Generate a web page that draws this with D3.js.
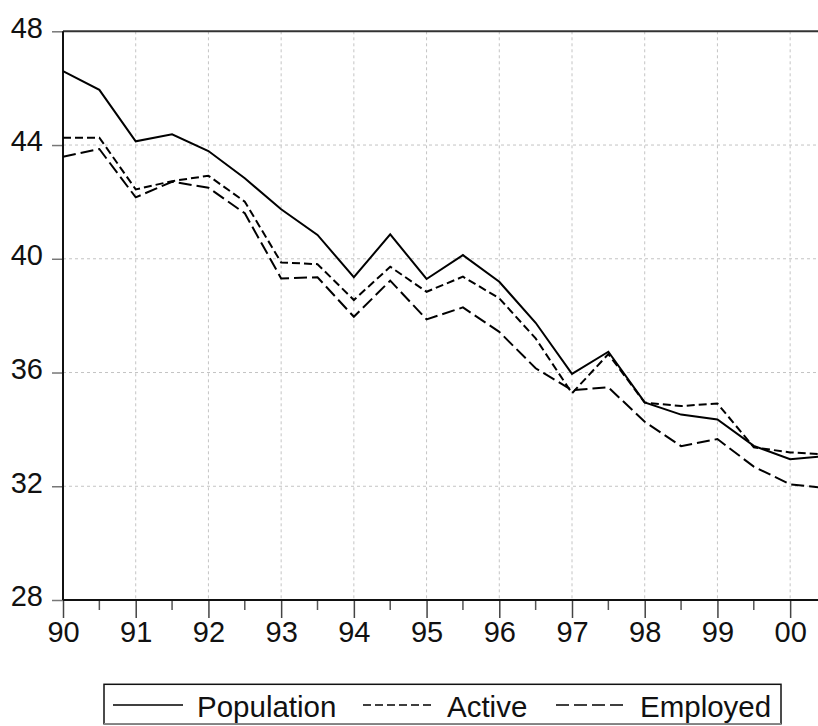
<!DOCTYPE html>
<html>
<head>
<meta charset="utf-8">
<script src="https://cdn.jsdelivr.net/npm/d3@7"></script>
<style>
  body { margin: 0; background: #fff; }
  svg { display: block; font-family: "Liberation Sans", Arial, sans-serif; }
</style>
</head>
<body>
<svg id="chart" width="818" height="726"></svg>
<script>
// semiannual observations, 1990H1 .. 2000H2
var periods = [1990, 1990.5, 1991, 1991.5, 1992, 1992.5, 1993, 1993.5, 1994, 1994.5, 1995,
               1995.5, 1996, 1996.5, 1997, 1997.5, 1998, 1998.5, 1999, 1999.5, 2000, 2000.5];
var population = [46.60, 45.94, 44.13, 44.38, 43.79, 42.83, 41.74, 40.84, 39.35, 40.86, 39.29,
                  40.13, 39.19, 37.75, 35.95, 36.73, 34.95, 34.52, 34.35, 33.42, 32.95, 33.06];
var active     = [44.26, 44.26, 42.44, 42.73, 42.92, 42.01, 39.87, 39.81, 38.55, 39.72, 38.84,
                  39.37, 38.61, 37.20, 35.27, 36.65, 34.94, 34.82, 34.91, 33.37, 33.19, 33.12];
var employed   = [43.59, 43.86, 42.16, 42.71, 42.50, 41.60, 39.31, 39.35, 37.96, 39.23, 37.87,
                  38.29, 37.43, 36.15, 35.38, 35.48, 34.27, 33.41, 33.66, 32.69, 32.07, 31.93];

var yTicks = [28, 32, 36, 40, 44, 48];
var xMajor = [1990, 1991, 1992, 1993, 1994, 1995, 1996, 1997, 1998, 1999, 2000];
var xMinor = [1990.5, 1991.5, 1992.5, 1993.5, 1994.5, 1995.5, 1996.5, 1997.5, 1998.5, 1999.5];
var xLabels = ['90', '91', '92', '93', '94', '95', '96', '97', '98', '99', '00'];

var seriesNames = ['Population', 'Active', 'Employed'];
var seriesValues = [population, active, employed];
var dashes = [null, '8,4', '13,5'];

var svg = d3.select('#chart');
var pLeft = 63, pTop = 31.3, pBottom = 600, pRight = 826.5;

var x = d3.scaleLinear().domain([1990, 2000.5]).range([pLeft, pRight]);
var y = d3.scaleLinear().domain([28, 48]).range([pBottom, pTop]);

//Grid
svg.append('g').selectAll('line').data(yTicks.filter(function(d){ return d > 28 && d < 48; }))
  .enter().append('line')
  .attr('x1', pLeft).attr('x2', 818)
  .attr('y1', function(d){ return y(d); }).attr('y2', function(d){ return y(d); })
  .attr('stroke', '#c4c4c4').attr('stroke-dasharray', '3,3');
svg.append('g').selectAll('line').data(xMajor.slice(1))
  .enter().append('line')
  .attr('x1', function(d){ return x(d); }).attr('x2', function(d){ return x(d); })
  .attr('y1', pTop).attr('y2', pBottom)
  .attr('stroke', '#c4c4c4').attr('stroke-dasharray', '3,3');

//Y axis
var yAxis = d3.axisLeft(y).tickValues(yTicks).tickSize(11).tickPadding(9).tickFormat(d3.format('d'));
var gy = svg.append('g').attr('transform', 'translate(' + pLeft + ',0)').call(yAxis);
gy.select('.domain').remove();
gy.selectAll('line').attr('stroke', '#777').attr('stroke-width', 1.5);
gy.selectAll('text').attr('font-size', 29).attr('fill', '#111').attr('dy', '0.2em');

//X axis
var gx = svg.append('g').attr('transform', 'translate(0,' + pBottom + ')')
  .call(d3.axisBottom(x).tickValues(xMajor).tickSize(18).tickPadding(3)
    .tickFormat(function(d, i){ return xLabels[i]; }));
gx.select('.domain').remove();
gx.selectAll('line').attr('stroke', '#444').attr('stroke-width', 1.5);
gx.selectAll('text').attr('font-size', 29).attr('fill', '#111');
svg.append('g').selectAll('line').data(xMinor).enter().append('line')
  .attr('x1', function(d){ return x(d); }).attr('x2', function(d){ return x(d); })
  .attr('y1', pBottom).attr('y2', pBottom + 10)
  .attr('stroke', '#555').attr('stroke-width', 1.5);

//Frame
svg.append('line').attr('x1', pLeft).attr('x2', 818).attr('y1', pTop).attr('y2', pTop)
  .attr('stroke', '#333').attr('stroke-width', 2);
svg.append('line').attr('x1', pLeft).attr('x2', 818).attr('y1', pBottom).attr('y2', pBottom)
  .attr('stroke', '#111').attr('stroke-width', 2);
svg.append('line').attr('x1', pLeft).attr('x2', pLeft).attr('y1', pTop).attr('y2', pBottom)
  .attr('stroke', '#111').attr('stroke-width', 2);

//Lines
var line = d3.line().x(function(d, i){ return x(periods[i]); }).y(function(d){ return y(d); });
seriesValues.forEach(function(vals, k){
  svg.append('path').datum(vals)
    .attr('d', line)
    .attr('fill', 'none')
    .attr('stroke', '#000')
    .attr('stroke-width', 2)
    .attr('stroke-dasharray', dashes[k]);
});

//Legend
var legend = svg.append('g');
legend.append('rect').attr('x', 104).attr('y', 684.3).attr('width', 677).attr('height', 39.5)
  .attr('fill', 'none').attr('stroke', '#111').attr('stroke-width', 1.5);
legend.append('line').attr('x1', 104).attr('x2', 781).attr('y1', 723.8).attr('y2', 723.8)
  .attr('stroke', '#888').attr('stroke-width', 1.5);
var legX = [113, 363, 556];
seriesNames.forEach(function(name, k){
  legend.append('line')
    .attr('x1', legX[k]).attr('x2', legX[k] + 70)
    .attr('y1', 705).attr('y2', 705)
    .attr('stroke', '#000').attr('stroke-width', 1.5)
    .attr('stroke-dasharray', dashes[k]);
  legend.append('text')
    .attr('x', legX[k] + 84).attr('y', 716.5)
    .attr('font-size', 29.5).attr('fill', '#111')
    .text(name);
});
</script>
</body>
</html>
